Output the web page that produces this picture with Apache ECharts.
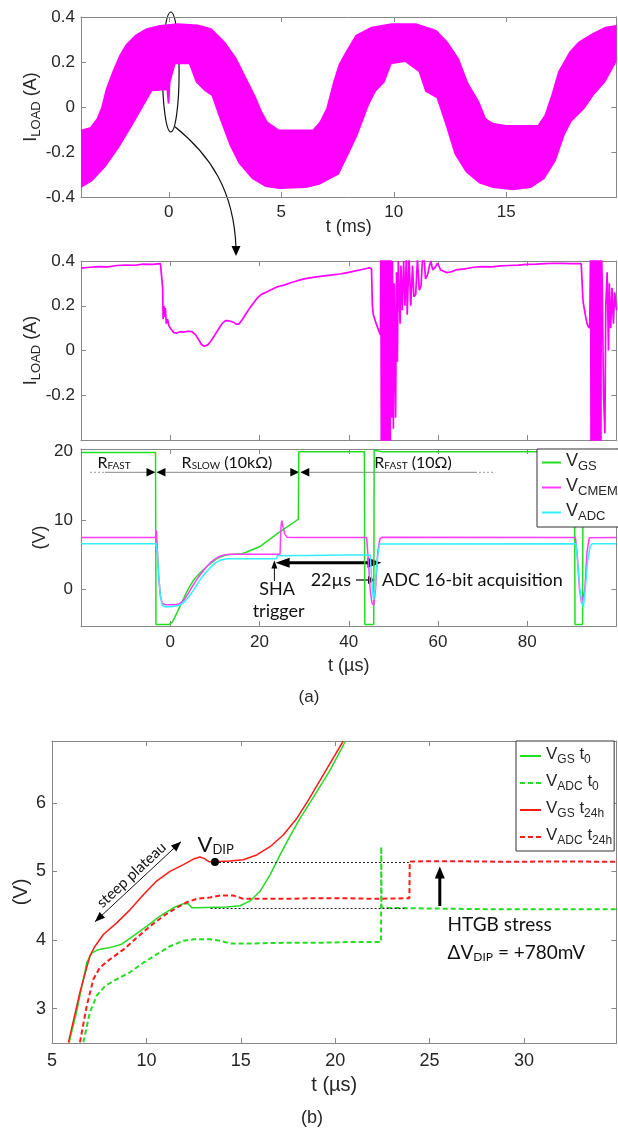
<!DOCTYPE html>
<html><head><meta charset="utf-8">
<script src="https://cdn.jsdelivr.net/npm/echarts@6/dist/echarts.min.js"></script>
<style>html,body{margin:0;padding:0;background:#fff}#c{width:618px;height:1129px}</style>
</head><body><div id="c"></div>
<script>
// ---------- DATA ----------
// Panel (a) top: I_LOAD ripple band envelopes, t in ms, I in A
const bandUpper = [[-3.9,-0.10],[-3.5,-0.09],[-3.2,-0.05],[-3.0,0.0],[-2.8,0.08],[-2.5,0.16],[-2.2,0.23],[-1.9,0.28],[-1.5,0.32],[-1.0,0.35],[-0.4,0.365],[0.4,0.372],[1.3,0.367],[1.9,0.35],[2.5,0.29],[3.0,0.22],[3.4,0.14],[3.85,0.05],[4.15,-0.02],[4.4,-0.065],[4.9,-0.1],[5.6,-0.1],[6.4,-0.1],[6.7,-0.065],[7.0,-0.006],[7.3,0.11],[7.55,0.19],[7.85,0.245],[8.3,0.32],[9.0,0.357],[9.9,0.372],[11.0,0.372],[11.9,0.342],[12.4,0.29],[12.9,0.216],[13.3,0.11],[13.8,0.024],[14.1,-0.05],[14.4,-0.07],[15.0,-0.08],[16.4,-0.08],[16.7,-0.035],[17.0,0.053],[17.3,0.157],[17.8,0.246],[18.2,0.29],[18.8,0.327],[19.4,0.357],[19.9,0.365]];
const bandLower = [[-3.9,-0.36],[-3.4,-0.33],[-2.8,-0.265],[-2.2,-0.18],[-1.6,-0.08],[-1.0,0.024],[-0.74,0.07],[-0.1,0.075],[-0.05,0.016],[0.03,0.016],[0.08,0.11],[0.3,0.19],[0.9,0.19],[1.2,0.11],[1.6,0.07],[1.9,0.05],[2.2,-0.035],[2.7,-0.17],[3.1,-0.25],[3.7,-0.32],[4.3,-0.355],[4.9,-0.364],[6.1,-0.36],[6.7,-0.345],[7.56,-0.30],[8.0,-0.21],[8.4,-0.124],[8.9,0.009],[9.2,0.068],[9.6,0.11],[9.9,0.19],[10.5,0.2],[11.1,0.157],[11.4,0.068],[11.9,0.04],[12.3,-0.08],[12.7,-0.21],[13.2,-0.29],[13.8,-0.34],[14.4,-0.36],[15.3,-0.37],[16.1,-0.36],[16.7,-0.32],[17.2,-0.24],[17.6,-0.124],[17.9,-0.065],[18.5,-0.006],[18.9,0.053],[19.4,0.11],[19.9,0.2]];

// Panel (a) middle: I_LOAD zoom, t in us
const midI = [[-20,0.368],[-18,0.372],[-16,0.375],[-14,0.374],[-12,0.380],[-10,0.382],[-8,0.381],[-6,0.386],[-4,0.385],[-2.2,0.388],[-1.9,0.39],[-1.7,0.28],[-1.6,0.14],[-1.4,0.2],[-1.3,0.15],[-1.1,0.19],[-0.9,0.12],[-0.6,0.14],[-0.3,0.11],[0.2,0.095],[0.8,0.08],[1.5,0.078],[2.2,0.084],[3,0.082],[4,0.086],[4.8,0.085],[5.6,0.072],[6.3,0.05],[7,0.027],[7.6,0.019],[8.4,0.025],[9.2,0.045],[10,0.07],[10.8,0.095],[11.6,0.12],[12.4,0.134],[13.2,0.132],[14,0.128],[14.8,0.118],[15.4,0.118],[16.2,0.14],[17,0.165],[18,0.195],[18.7,0.213],[19.5,0.235],[20.5,0.252],[21.5,0.26],[22.5,0.27],[24,0.285],[25.5,0.292],[27,0.303],[28.5,0.312],[30,0.32],[32,0.327],[34,0.332],[36,0.337],[38,0.342],[40,0.349],[41.5,0.356],[43,0.362],[44.6,0.37],[45.1,0.365],[45.3,0.2],[45.5,0.16],[46,0.13],[46.5,0.1],[46.9,0.08],[47.1,0.07],
[47.2,0.5],[47.3,-0.5],[47.4,0.5],[47.5,-0.5],[47.6,0.5],[47.7,-0.5],[47.8,0.5],[47.9,-0.5],[48.0,0.5],[48.1,-0.5],[48.2,0.5],[48.3,-0.5],[48.4,0.5],[48.5,-0.5],[48.6,0.5],[48.7,-0.5],[48.8,0.5],[48.9,-0.5],[49.0,0.5],[49.1,-0.5],[49.2,0.5],[49.3,-0.5],[49.4,0.5],
[49.6,-0.3],[49.8,0.4],[50.0,-0.35],[50.2,0.3],[50.5,-0.3],[50.7,0.35],[50.9,-0.05],[51.1,0.4],[51.5,0.12],[51.7,0.38],[52.0,0.18],[52.3,0.4],[52.6,0.2],[52.9,0.42],[53.1,0.16],[53.5,0.42],[53.9,0.2],[54.3,0.38],[54.6,0.24],[55.0,0.25],[55.4,0.41],[55.8,0.27],[56.2,0.29],[56.5,0.4],[56.9,0.41],[57.2,0.32],[57.7,0.34],[58.1,0.38],[58.4,0.4],[58.8,0.36],[59.3,0.37],[59.9,0.39],[60.6,0.36],[62,0.348],[63,0.352],[64,0.36],[66,0.365],[68,0.372],[70,0.375],[72,0.374],[74,0.378],[76,0.38],[78,0.382],[80,0.385],[82,0.386],[84,0.388],[86,0.39],[88,0.389],[90,0.388],[92.1,0.388],[92.3,0.3],[92.5,0.22],[93,0.16],[93.4,0.12],[93.6,0.11],[94.0,0.1],
[94.2,0.5],[94.3,-0.5],[94.4,0.5],[94.5,-0.5],[94.6,0.5],[94.7,-0.5],[94.8,0.5],[94.9,-0.5],[95.0,0.5],[95.1,-0.5],[95.2,0.5],[95.3,-0.5],[95.4,0.5],[95.5,-0.5],[95.6,0.5],[95.7,-0.5],[95.8,0.5],[95.9,-0.5],[96.0,0.5],[96.1,-0.5],[96.2,0.5],[96.3,-0.5],[96.4,0.5],[96.5,-0.5],[96.6,0.5],
[96.8,0.3],[97.1,-0.2],[97.4,-0.37],[97.6,0.2],[97.9,0.35],[98.2,0.0],[98.4,0.3],[98.7,0.1],[99.0,0.28],[99.3,0.12],[99.6,0.26],[100,0.18]];

// Panel (a) bottom: voltages, t in us, V
const vGS = [[-20,19.9],[-3.3,19.9],[-3.2,-5.1],[-0.3,-5.1],[0.5,-4.7],[1.5,-3.4],[2.5,-2.0],[3.5,-0.6],[4.5,0.6],[5.5,1.6],[6.5,2.3],[7.5,2.9],[8.5,3.5],[9.5,4.0],[10.5,4.5],[11.5,4.8],[12.5,5.0],[14,5.1],[16,5.2],[17,5.4],[20,6.2],[24,8.1],[28.7,10.2],[28.8,20.0],[43.5,20.0],[43.6,-5.1],[45.6,-5.1],[45.7,20.3],[46.5,20.1],[47.5,20.0],[90.6,20.0],[90.7,-5.1],[92.4,-5.1],[92.5,20.0],[100,20.0]];
const vCMEM = [[-20,7.55],[-3.3,7.55],[-3.1,8.6],[-2.9,6.0],[-2.6,2.0],[-2.2,-1.0],[-1.8,-2.0],[-1.2,-2.2],[0,-2.2],[1,-2.2],[2,-2.1],[3,-1.6],[4,-0.6],[5,0.5],[6,1.5],[7,2.4],[8,3.2],[9,3.9],[10,4.4],[11,4.8],[12,5.0],[13,5.1],[16,5.1],[20,5.1],[24.6,5.1],[24.8,9.0],[25,10.0],[25.3,9.0],[25.7,8.0],[26.2,7.6],[28,7.55],[44.0,7.55],[44.3,5.0],[44.8,0.0],[45.2,-2.0],[45.6,-2.3],[46.0,0.0],[46.5,5.5],[47,7.4],[47.5,7.6],[90.8,7.55],[91.2,5.0],[91.7,0.0],[92.2,-2.0],[92.5,-2.2],[92.9,0.0],[93.4,5.5],[93.9,7.5],[100,7.55]];
const vADC = [[-20,6.65],[-3.2,6.65],[-2.9,5.5],[-2.6,2.0],[-2.2,-1.0],[-1.8,-2.3],[-1.2,-2.5],[0,-2.5],[1,-2.45],[2,-2.3],[3,-1.9],[4,-1.2],[5,-0.3],[6,0.7],[7,1.7],[8,2.5],[9,3.2],[10,3.8],[11,4.2],[12,4.4],[13,4.45],[18,4.45],[23.8,4.45],[24.0,4.9],[30,4.95],[40,5.0],[44.8,5.0],[45.0,3.0],[45.3,0.0],[45.6,-1.5],[45.9,0.0],[46.2,3.0],[46.5,4.9],[46.8,5.0],[46.9,6.6],[90.9,6.65],[91.3,4.0],[91.8,0.0],[92.3,-2.0],[92.6,-2.5],[93.0,0.0],[93.5,4.0],[94.1,6.3],[94.6,6.65],[100,6.65]];

// Panel (b): t in us, V
const bVGS0 = [[5.9,2.5],[6.3,2.95],[6.84,3.67],[7.1,3.81],[7.45,3.86],[8.07,3.89],[8.69,3.94],[9.31,4.06],[10.01,4.2],[10.72,4.35],[11.43,4.47],[11.96,4.53],[12.22,4.53],[12.4,4.47],[12.66,4.47],[14.25,4.48],[14.96,4.5],[15.49,4.57],[16.02,4.71],[16.55,4.95],[17.08,5.24],[17.6,5.51],[18.13,5.77],[18.75,6.04],[19.7,6.46],[20.55,6.9]];
const bVADC0 = [[6.66,2.51],[7.01,2.95],[7.37,3.19],[7.81,3.33],[8.43,3.43],[9.13,3.53],[9.84,3.67],[10.54,3.79],[11.25,3.91],[11.96,3.99],[12.49,4.01],[13.37,4.01],[13.9,3.99],[14.43,3.95],[15.49,3.95],[17.25,3.96],[19.02,3.96],[20.6,3.97],[22.43,3.97],[22.44,5.36],[22.46,4.47],[25,4.46],[28,4.45],[31,4.45],[34.9,4.45]];
const bVGS24 = [[5.87,2.51],[6.48,3.24],[7.01,3.77],[7.28,3.91],[7.72,4.08],[8.43,4.25],[9.13,4.44],[9.84,4.66],[10.54,4.86],[11.25,5.0],[11.96,5.1],[12.49,5.18],[12.84,5.21],[13.05,5.19],[13.33,5.14],[13.63,5.14],[14.43,5.15],[15.13,5.17],[15.84,5.24],[16.55,5.36],[17.25,5.53],[17.96,5.77],[18.58,6.04],[19.5,6.47],[20.43,6.9]];
const bVADC24 = [[6.48,2.51],[6.84,3.04],[7.19,3.43],[7.54,3.6],[8.07,3.72],[8.78,3.86],[9.48,4.03],[10.19,4.2],[10.9,4.35],[11.6,4.47],[12.13,4.55],[12.66,4.6],[13.37,4.62],[13.9,4.65],[14.6,4.65],[15.13,4.6],[15.84,4.6],[17.25,4.6],[19.02,4.61],[20.6,4.61],[22,4.6],[23.93,4.61],[23.95,5.145],[26,5.15],[29,5.14],[32,5.145],[34.9,5.14]];
const vDip = [13.63, 5.136];
const refLines = [[[13.63,5.136],[24.0,5.136]], [[13.4,4.47],[23.8,4.47]]];

// tick values
const topXTicks = [0,5,10,15];
const ampTicks = [-0.4,-0.2,0,0.2,0.4];
const midYLabels = [-0.2,0,0.2,0.4];
const usTicks = [0,20,40,60,80];
const vTicks = [0,10,20];
const bXTicks = [5,10,15,20,25,30];
const bYTicks = [3,4,5,6];

// ---------- STYLE ----------
const FRAME = '#878787', TXT = '#262626', AXF = 'Liberation Sans', ANF = 'Lato';
const MAG = '#ff00ff', GRN = '#22dd22', CMEM = '#ff3dff', CYN = '#33eeff', RED = '#ff1a1a';
// main text + lowered subscript (sub token is padded on top so it sits below the baseline)
const subRich = (fs, sfs, pad, fam, col) => ({
  m: {fontSize: fs, lineHeight: fs, verticalAlign: 'top', fontFamily: fam, color: col},
  s: {fontSize: sfs, lineHeight: sfs + pad, padding: [pad,0,0,0], verticalAlign: 'bottom', fontFamily: fam, color: col}
});

const xAxes = [], yAxes = [];
function addAxes(gi, o) {
  const line = {show: true, onZero: false, lineStyle: {color: FRAME, width: 1}};
  const tick = v => ({show: true, inside: true, length: 5, customValues: v, lineStyle: {color: FRAME}});
  const lab = (v, m, fs) => v ? {show: true, customValues: v, margin: m, fontSize: fs, color: TXT, fontFamily: AXF} : {show: false};
  xAxes.push({type: 'value', gridIndex: gi, position: 'bottom', min: o.xmin, max: o.xmax, axisLine: line, axisTick: tick(o.xt),
    axisLabel: lab(o.xl, o.xm, o.fs), splitLine: {show: false}, name: o.xname || '', nameLocation: 'middle', nameGap: o.xng,
    nameMoveOverlap: false, nameTextStyle: {fontSize: o.nfs, color: TXT, fontFamily: AXF}});
  xAxes.push({type: 'value', gridIndex: gi, position: 'top', min: o.xmin, max: o.xmax, axisLine: line, axisTick: tick(o.xt),
    axisLabel: {show: false}, splitLine: {show: false}});
  yAxes.push({type: 'value', gridIndex: gi, position: 'left', min: o.ymin, max: o.ymax, axisLine: line, axisTick: tick(o.yt),
    axisLabel: lab(o.yl, o.ym, o.fs), splitLine: {show: false}, name: o.yname || '', nameLocation: 'middle', nameGap: o.yng,
    nameMoveOverlap: false, nameTextStyle: {fontSize: o.nfs, color: TXT, fontFamily: AXF, rich: subRich(o.nfs, o.nfs - 5, 8, AXF, TXT)}});
  yAxes.push({type: 'value', gridIndex: gi, position: 'right', min: o.ymin, max: o.ymax, axisLine: line, axisTick: tick(o.yt),
    axisLabel: {show: false}, splitLine: {show: false}});
}
addAxes(0, {xmin: -3.9, xmax: 19.9, ymin: -0.4, ymax: 0.4, xt: topXTicks, xl: topXTicks, yt: ampTicks, yl: ampTicks,
  xm: 7, ym: 6, fs: 17, nfs: 18, xname: 't (ms)', xng: 21, yname: '{m|I}{s|LOAD}{m| (A)}', yng: 38});
addAxes(1, {xmin: -20, xmax: 100, ymin: -0.4, ymax: 0.4, xt: usTicks, xl: null, yt: ampTicks, yl: midYLabels,
  ym: 6, fs: 17, nfs: 18, yname: '{m|I}{s|LOAD}{m| (A)}', yng: 38});
addAxes(2, {xmin: -20, xmax: 100, ymin: -5.3, ymax: 20.4, xt: usTicks, xl: usTicks, yt: vTicks, yl: vTicks,
  xm: 8, ym: 8, fs: 17, nfs: 18, xname: 't (µs)', xng: 31, yname: '(V)', yng: 32});
addAxes(3, {xmin: 5, xmax: 34.9, ymin: 2.5, ymax: 6.9, xt: bXTicks, xl: bXTicks, yt: bYTicks, yl: bYTicks,
  xm: 9, ym: 6, fs: 18, nfs: 20, xname: 't (µs)', xng: 32, yname: '(V)', yng: 21});

const ln = (name, data, xi, color, w, dash) => ({
  name, type: 'line', data, xAxisIndex: xi, yAxisIndex: xi, symbol: 'none', showSymbol: false, animation: false,
  lineStyle: {color, width: w, type: dash || 'solid'}, itemStyle: {color}, clip: true
});

const series = [
  {type: 'custom', name: 'band', xAxisIndex: 0, yAxisIndex: 0, data: [[0, 0]], animation: false,
    renderItem: (params, api) => {
      const pts = bandUpper.map(p => api.coord(p)).concat(bandLower.slice().reverse().map(p => api.coord(p)));
      return {type: 'polygon', shape: {points: pts}, style: {fill: MAG}};
    }},
  ln('iload', midI, 2, MAG, 1.7),
  ln('VGS', vGS, 4, GRN, 1.5),
  ln('VCMEM', vCMEM, 4, CMEM, 1.5),
  ln('VADC', vADC, 4, CYN, 1.5),
  ln('VGS t0', bVGS0, 6, GRN, 1.5),
  ln('VADC t0', bVADC0, 6, GRN, 2, [5, 3]),
  Object.assign(ln('VGS t24h', bVGS24, 6, RED, 1.5), {
    markLine: {silent: true, symbol: ['none', 'none'], label: {show: false}, animation: false,
      lineStyle: {type: [2, 2], color: '#222', width: 1},
      data: refLines.map(s => [{coord: s[0]}, {coord: s[1]}])},
    markPoint: {silent: true, symbol: 'circle', symbolSize: 8, itemStyle: {color: '#000'}, label: {show: false}, animation: false,
      data: [{coord: vDip}]}
  }),
  ln('VADC t24h', bVADC24, 6, RED, 2, [5, 3])
];

const legNames = {
  'VGS': '{m|V}{s|GS}', 'VCMEM': '{m|V}{s|CMEM}', 'VADC': '{m|V}{s|ADC}',
  'VGS t0': '{m|V}{s|GS}{m| t}{s|0}', 'VADC t0': '{m|V}{s|ADC}{m| t}{s|0}',
  'VGS t24h': '{m|V}{s|GS}{m| t}{s|24h}', 'VADC t24h': '{m|V}{s|ADC}{m| t}{s|24h}'
};
const legBase = {orient: 'vertical', itemWidth: 20, itemHeight: 14, borderColor: '#333', borderWidth: 1, backgroundColor: '#fff',
  selectedMode: false, formatter: n => legNames[n], z: 10, itemStyle: {opacity: 0, borderWidth: 0}};

// ---------- annotations ----------
function head(tip, from, len, hw, color) {
  const dx = tip[0] - from[0], dy = tip[1] - from[1], L = Math.hypot(dx, dy), ux = dx / L, uy = dy / L;
  const bx = tip[0] - ux * len, by = tip[1] - uy * len;
  return {type: 'polygon', shape: {points: [tip, [bx - uy * hw, by + ux * hw], [bx + uy * hw, by - ux * hw]]}, style: {fill: color || '#000'}};
}
const seg = (x1, y1, x2, y2, color, w, dash) => ({type: 'line', shape: {x1, y1, x2, y2}, style: {stroke: color, lineWidth: w, lineDash: dash || null}});
const txt = (x, y, text, fs, align, extra) => Object.assign({type: 'text', x, y,
  style: Object.assign({text, fontSize: fs, fontFamily: ANF, fill: '#111', align: align || 'center', verticalAlign: 'middle'}, extra || {})});
const annRich = (fs, sfs, pad) => ({
  r: {fontSize: fs, lineHeight: fs, verticalAlign: 'top', fontFamily: ANF, fill: '#111'},
  s: {fontSize: sfs, lineHeight: sfs + pad, padding: [pad,0,0,0], verticalAlign: 'bottom', fontFamily: ANF, fill: '#111'}
});

const DY = 472.3;
const graphic = [
  // ellipse + curved arrow (top panel)
  {type: 'ellipse', shape: {cx: 170.8, cy: 72, rx: 8.3, ry: 60}, style: {fill: null, stroke: '#111', lineWidth: 1.2}},
  {type: 'bezierCurve', shape: {x1: 175, y1: 126.7, cpx1: 210, cpy1: 155, cpx2: 234, cpy2: 190, x2: 236, y2: 248}, style: {stroke: '#111', lineWidth: 1.2, fill: null}},
  head([236, 256], [236, 240], 10, 4.5),
  // R_FAST / R_SLOW dimension line
  seg(90, DY, 105, DY, '#999', 1, [2, 2]),
  seg(105, DY, 147, DY, '#888', 1),
  head([155.5, DY], [140, DY], 9, 4.2), head([156.5, DY], [170, DY], 9, 4.2),
  seg(165, DY, 291, DY, '#888', 1),
  head([299.3, DY], [280, DY], 9, 4.2), head([300.3, DY], [320, DY], 9, 4.2),
  seg(309, DY, 477, DY, '#888', 1),
  seg(479, DY, 494, DY, '#999', 1, [2, 2]),
  txt(114, 463, '{r|R}{s|FAST}', 16, 'center', {rich: annRich(16, 10, 6)}),
  txt(227, 463, '{r|R}{s|SLOW}{r| (10kΩ)}', 16, 'center', {rich: annRich(16, 10, 6)}),
  txt(413, 463, '{r|R}{s|FAST}{r| (10Ω)}', 16, 'center', {rich: annRich(16, 10, 6)}),
  // SHA trigger
  seg(274.4, 581, 274.4, 567, '#111', 1),
  head([274.4, 560.5], [274.4, 575], 8, 3),
  txt(277, 589.5, 'SHA', 18), txt(278.6, 611.5, 'trigger', 18),
  // 22us double arrow
  seg(288, 562.7, 369, 562.7, '#000', 3),
  head([275.6, 562.7], [300, 562.7], 14, 5), head([381.5, 562.7], [360, 562.7], 14, 5),
  txt(351, 580, '22µs', 18, 'right'),
  seg(356, 580, 369, 580, '#111', 1.3), head([375, 580], [360, 580], 7, 4),
  txt(382, 580, 'ADC 16-bit acquisition', 18, 'left'),
  txt(309, 697, '(a)', 17, 'center', {fontFamily: AXF, fill: TXT}),
  // panel (b)
  seg(95, 921.7, 181, 841.7, '#111', 1),
  head([181, 841.7], [95, 921.7], 10, 4), head([95, 921.7], [181, 841.7], 10, 4),
  {type: 'text', x: 131.5, y: 875, rotation: Math.atan2(80, 86), style: {text: 'steep plateau', fontSize: 15, fontFamily: ANF, fill: '#111', align: 'center', verticalAlign: 'middle'}},
  txt(197.5, 845, '{r|V}{s|DIP}', 21, 'left', {rich: annRich(22, 13, 9)}),
  seg(439.8, 906, 439.8, 876, '#000', 3),
  head([439.8, 866.5], [439.8, 900], 12, 5),
  txt(447.6, 925, 'HTGB stress', 19, 'left'),
  txt(447.6, 953, '{r|ΔV}{s|DIP}{r| = +780mV}', 19, 'left', {rich: annRich(19, 12, 8)}),
  txt(312, 1118, '(b)', 18, 'center', {fontFamily: AXF, fill: TXT})
];

const chart = echarts.init(document.getElementById('c'));
chart.setOption({
  animation: false,
  backgroundColor: '#fff',
  grid: [
    {left: 81, top: 17, width: 535.5, height: 180, containLabel: false, outerBoundsMode: 'none'},
    {left: 81, top: 261, width: 535.5, height: 179, containLabel: false, outerBoundsMode: 'none'},
    {left: 81, top: 449, width: 535.5, height: 177, containLabel: false, outerBoundsMode: 'none'},
    {left: 52, top: 741, width: 564.5, height: 302, containLabel: false, outerBoundsMode: 'none'}
  ],
  xAxis: xAxes, yAxis: yAxes,
  legend: [
    Object.assign({}, legBase, {data: ['VGS', 'VCMEM', 'VADC'], left: 537, top: 449, padding: [3, 3, 4, 4], itemGap: 4, itemWidth: 19,
      textStyle: {rich: subRich(18, 13, 8, AXF, TXT), color: TXT}}),
    Object.assign({}, legBase, {data: ['VGS t0', 'VADC t0', 'VGS t24h', 'VADC t24h'], left: 516, top: 741, padding: [5, 2, 4, 3], itemGap: 7, itemWidth: 21,
      textStyle: {rich: subRich(17, 12, 8, AXF, TXT), color: TXT}})
  ],
  series, graphic
});
</script></body></html>
